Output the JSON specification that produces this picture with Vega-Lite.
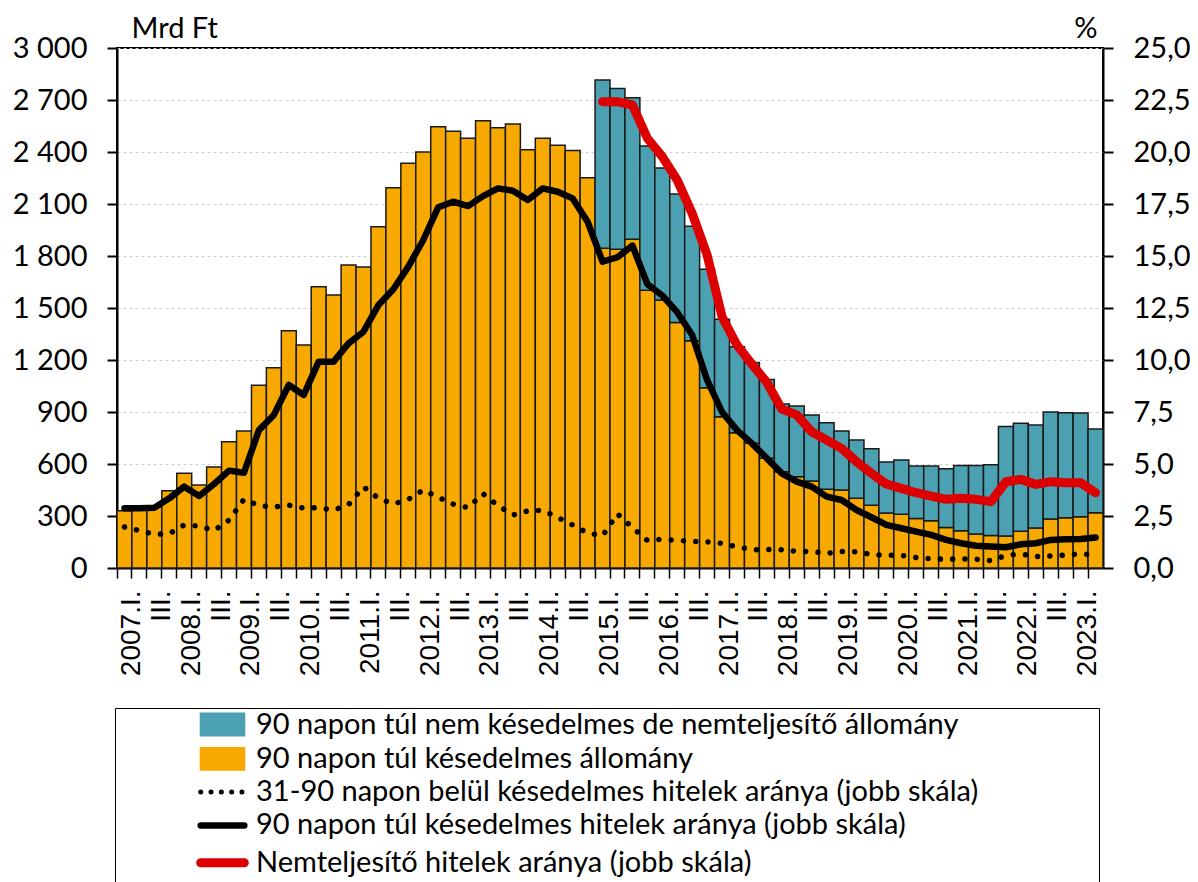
{
  "$schema": "https://vega.github.io/schema/vega-lite/v6.json",
  "width": 986,
  "height": 520,
  "autosize": {"type": "none"},
  "padding": {"left": 117, "top": 48, "right": 95, "bottom": 314},
  "background": "white",
  "config": {"view": {"stroke": "black", "strokeWidth": 2}, "font": "Lato"},
  "data": {"values": [
    {"q":"2007.I.","a":330,"b":null,"r31":1.97,"r90":2.87,"npl":null},
    {"q":"2007.II.","a":340,"b":null,"r31":1.8,"r90":2.87,"npl":null},
    {"q":"2007.III.","a":350,"b":null,"r31":1.62,"r90":2.9,"npl":null},
    {"q":"2007.IV.","a":446,"b":null,"r31":1.65,"r90":3.35,"npl":null},
    {"q":"2008.I.","a":546,"b":null,"r31":2.07,"r90":3.91,"npl":null},
    {"q":"2008.II.","a":479,"b":null,"r31":2.02,"r90":3.46,"npl":null},
    {"q":"2008.III.","a":583,"b":null,"r31":1.8,"r90":4.04,"npl":null},
    {"q":"2008.IV.","a":729,"b":null,"r31":2.3,"r90":4.68,"npl":null},
    {"q":"2009.I.","a":790,"b":null,"r31":3.3,"r90":4.58,"npl":null},
    {"q":"2009.II.","a":1054,"b":null,"r31":3.0,"r90":6.63,"npl":null},
    {"q":"2009.III.","a":1156,"b":null,"r31":2.93,"r90":7.36,"npl":null},
    {"q":"2009.IV.","a":1369,"b":null,"r31":3.02,"r90":8.8,"npl":null},
    {"q":"2010.I.","a":1287,"b":null,"r31":2.88,"r90":8.32,"npl":null},
    {"q":"2010.II.","a":1623,"b":null,"r31":2.9,"r90":9.92,"npl":null},
    {"q":"2010.III.","a":1575,"b":null,"r31":2.78,"r90":9.92,"npl":null},
    {"q":"2010.IV.","a":1748,"b":null,"r31":3.05,"r90":10.8,"npl":null},
    {"q":"2011.I.","a":1737,"b":null,"r31":3.9,"r90":11.36,"npl":null},
    {"q":"2011.II.","a":1969,"b":null,"r31":3.35,"r90":12.64,"npl":null},
    {"q":"2011.III.","a":2194,"b":null,"r31":3.08,"r90":13.4,"npl":null},
    {"q":"2011.IV.","a":2335,"b":null,"r31":3.3,"r90":14.49,"npl":null},
    {"q":"2012.I.","a":2400,"b":null,"r31":3.75,"r90":15.77,"npl":null},
    {"q":"2012.II.","a":2546,"b":null,"r31":3.4,"r90":17.34,"npl":null},
    {"q":"2012.III.","a":2519,"b":null,"r31":3.07,"r90":17.61,"npl":null},
    {"q":"2012.IV.","a":2479,"b":null,"r31":2.9,"r90":17.4,"npl":null},
    {"q":"2013.I.","a":2581,"b":null,"r31":3.57,"r90":17.88,"npl":null},
    {"q":"2013.II.","a":2540,"b":null,"r31":3.0,"r90":18.25,"npl":null},
    {"q":"2013.III.","a":2561,"b":null,"r31":2.55,"r90":18.14,"npl":null},
    {"q":"2013.IV.","a":2413,"b":null,"r31":2.74,"r90":17.69,"npl":null},
    {"q":"2014.I.","a":2479,"b":null,"r31":2.78,"r90":18.25,"npl":null},
    {"q":"2014.II.","a":2439,"b":null,"r31":2.43,"r90":18.09,"npl":null},
    {"q":"2014.III.","a":2408,"b":null,"r31":2.07,"r90":17.77,"npl":null},
    {"q":"2014.IV.","a":2252,"b":null,"r31":1.68,"r90":16.65,"npl":null},
    {"q":"2015.I.","a":1844,"b":971,"r31":1.55,"r90":14.73,"npl":22.42},
    {"q":"2015.II.","a":1839,"b":928,"r31":2.6,"r90":14.94,"npl":22.42},
    {"q":"2015.III.","a":1896,"b":817,"r31":1.95,"r90":15.5,"npl":22.26},
    {"q":"2015.IV.","a":1602,"b":833,"r31":1.33,"r90":13.65,"npl":20.66},
    {"q":"2016.I.","a":1546,"b":762,"r31":1.38,"r90":13.1,"npl":19.78},
    {"q":"2016.II.","a":1417,"b":741,"r31":1.33,"r90":12.3,"npl":18.65},
    {"q":"2016.III.","a":1311,"b":660,"r31":1.28,"r90":11.2,"npl":17.05},
    {"q":"2016.IV.","a":1040,"b":683,"r31":1.26,"r90":9.04,"npl":15.05},
    {"q":"2017.I.","a":873,"b":562,"r31":1.18,"r90":7.5,"npl":12.08},
    {"q":"2017.II.","a":781,"b":496,"r31":1.02,"r90":6.63,"npl":10.72},
    {"q":"2017.III.","a":719,"b":466,"r31":0.88,"r90":5.99,"npl":9.8},
    {"q":"2017.IV.","a":633,"b":455,"r31":0.89,"r90":5.27,"npl":8.92},
    {"q":"2018.I.","a":556,"b":390,"r31":0.88,"r90":4.55,"npl":7.64},
    {"q":"2018.II.","a":527,"b":408,"r31":0.8,"r90":4.15,"npl":7.36},
    {"q":"2018.III.","a":502,"b":381,"r31":0.79,"r90":3.91,"npl":6.55},
    {"q":"2018.IV.","a":454,"b":384,"r31":0.7,"r90":3.43,"npl":6.15},
    {"q":"2019.I.","a":450,"b":340,"r31":0.79,"r90":3.27,"npl":5.75},
    {"q":"2019.II.","a":402,"b":336,"r31":0.78,"r90":2.79,"npl":5.11},
    {"q":"2019.III.","a":362,"b":326,"r31":0.65,"r90":2.44,"npl":4.55},
    {"q":"2019.IV.","a":317,"b":295,"r31":0.61,"r90":2.07,"npl":4.04},
    {"q":"2020.I.","a":310,"b":313,"r31":0.61,"r90":1.91,"npl":3.83},
    {"q":"2020.II.","a":285,"b":303,"r31":0.5,"r90":1.75,"npl":3.62},
    {"q":"2020.III.","a":273,"b":315,"r31":0.44,"r90":1.59,"npl":3.46},
    {"q":"2020.IV.","a":233,"b":340,"r31":0.42,"r90":1.35,"npl":3.3},
    {"q":"2021.I.","a":215,"b":377,"r31":0.44,"r90":1.19,"npl":3.35},
    {"q":"2021.II.","a":196,"b":396,"r31":0.42,"r90":1.07,"npl":3.3},
    {"q":"2021.III.","a":188,"b":408,"r31":0.35,"r90":1.03,"npl":3.19},
    {"q":"2021.IV.","a":185,"b":632,"r31":0.6,"r90":1.0,"npl":4.15},
    {"q":"2022.I.","a":212,"b":623,"r31":0.67,"r90":1.14,"npl":4.26},
    {"q":"2022.II.","a":231,"b":594,"r31":0.55,"r90":1.19,"npl":4.02},
    {"q":"2022.III.","a":283,"b":617,"r31":0.58,"r90":1.35,"npl":4.15},
    {"q":"2022.IV.","a":290,"b":606,"r31":0.62,"r90":1.38,"npl":4.1},
    {"q":"2023.I.","a":296,"b":598,"r31":0.68,"r90":1.39,"npl":4.1},
    {"q":"2023.II.","a":319,"b":483,"r31":0.62,"r90":1.47,"npl":3.62}
  ]},
  "resolve": {"scale": {"y": "independent"}},
  "layer": [
    {
      "transform": [{"fold": ["a", "b"], "as": ["key", "val"]}],
      "mark": {"type": "bar", "stroke": "#1a1a1a", "strokeWidth": 1.5},
      "encoding": {
        "x": {
          "field": "q", "type": "ordinal", "sort": null,
          "scale": {"paddingInner": 0, "paddingOuter": 0},
          "axis": {
            "title": null, "bandPosition": 0, "labelOffset": 7.47, "labelAngle": -90,
            "labelExpr": "slice(datum.label, 4) == '.I.' ? datum.label : (slice(datum.label, 4) == '.III.' ? 'III.' : '')",
            "labelFont": "Liberation Sans", "labelFontSize": 28, "labelColor": "black", "labelPadding": 12,
            "labelOverlap": false, "labelFlush": false,
            "tickSize": 10, "tickColor": "black", "tickWidth": 1.5,
            "domainColor": "black", "domainWidth": 2
          }
        },
        "y": {
          "field": "val", "type": "quantitative", "stack": "zero",
          "scale": {"domain": [0, 3000], "nice": false},
          "axis": {
            "title": "Mrd Ft", "titleAngle": 0, "titleX": 14, "titleY": -11, "titleAlign": "left", "titleBaseline": "alphabetic",
            "titleFont": "Lato", "titleFontSize": 29, "titleFontWeight": "normal", "titleColor": "black",
            "values": [0, 300, 600, 900, 1200, 1500, 1800, 2100, 2400, 2700, 3000],
            "labelExpr": "replace(format(datum.value, ','), ',', ' ')",
            "labelFont": "Lato", "labelFontSize": 29, "labelColor": "black", "labelPadding": 20,
            "grid": true, "gridColor": "#d0d0d0", "gridDash": [3, 3], "gridWidth": 1,
            "tickSize": 10, "tickColor": "black", "tickWidth": 2,
            "domainColor": "black", "domainWidth": 2
          }
        },
        "color": {
          "field": "key", "type": "nominal",
          "scale": {"domain": ["b", "a", "r31", "r90", "npl"], "range": ["#4BA0B1", "#F7A900", "#000000", "#000000", "#DC0000"]},
          "legend": {
            "title": null, "orient": "none", "legendX": -2, "legendY": 660, "direction": "vertical",
            "strokeColor": "black", "fillColor": "white", "padding": 2,
            "symbolSize": 1156, "symbolOffset": 91, "labelOffset": 19,
            "labelFont": "Lato", "labelFontSize": 29, "labelColor": "black", "labelLimit": 1500, "rowPadding": 3.3,
            "labelExpr": "(datum.value == 'b' ? '90 napon túl nem késedelmes de nemteljesítő állomány' : datum.value == 'a' ? '90 napon túl késedelmes állomány' : datum.value == 'r31' ? '31-90 napon belül késedelmes hitelek aránya (jobb skála)' : datum.value == 'r90' ? '90 napon túl késedelmes hitelek aránya (jobb skála)' : 'Nemteljesítő hitelek aránya (jobb skála)') + '\u00a0\u00a0\u00a0\u00a0\u00a0\u00a0\u00a0\u00a0\u00a0\u00a0\u00a0\u00a0\u00a0\u00a0\u00a0\u00a0\u200b'",
            "encoding": {
              "symbols": {
                "shape": {"value": {"expr": "datum.value == 'b' || datum.value == 'a' ? 'M-1,-0.5H1V0.5H-1Z' : 'stroke'"}},
                "size": {"value": 1900},
                "stroke": {"value": {"expr": "datum.value == 'npl' ? '#DC0000' : (datum.value == 'b' || datum.value == 'a') ? '#1a1a1a' : 'black'"}},
                "strokeWidth": {"value": {"expr": "(datum.value == 'b' || datum.value == 'a') ? 2 : datum.value == 'r31' ? 5 : datum.value == 'r90' ? 6.5 : 9"}},
                "strokeDash": {"value": {"expr": "datum.value == 'r31' ? [0.01, 10.3] : [1, 0]"}},
                "strokeCap": {"value": "round"},
                "opacity": {"value": 1}
              }
            }
          }
        },
        "order": {"field": "key", "sort": "ascending"}
      }
    },
    {
      "layer": [
        {
          "transform": [{"fold": ["r31"], "as": ["key", "val"]}],
          "mark": {"type": "line", "strokeWidth": 5.5, "strokeDash": [0.01, 12.3], "strokeCap": "round"},
          "encoding": {
            "x": {"field": "q", "type": "ordinal", "sort": null},
            "y": {
              "field": "val", "type": "quantitative",
              "scale": {"domain": [0, 25], "nice": false},
              "axis": {
                "orient": "right", "title": "%", "titleAngle": 0, "titleX": -6, "titleY": -11, "titleAlign": "right", "titleBaseline": "alphabetic",
                "titleFont": "Lato", "titleFontSize": 29, "titleFontWeight": "normal", "titleColor": "black",
                "values": [0, 2.5, 5, 7.5, 10, 12.5, 15, 17.5, 20, 22.5, 25],
                "labelExpr": "replace(format(datum.value, '.1f'), '.', ',')",
                "labelFont": "Lato", "labelFontSize": 29, "labelColor": "black", "labelPadding": 20,
                "grid": false, "tickSize": 10, "tickColor": "black", "tickWidth": 2,
                "domainColor": "black", "domainWidth": 2
              }
            },
            "color": {"field": "key", "type": "nominal", "legend": null}
          }
        },
        {
          "transform": [{"fold": ["r90"], "as": ["key", "val"]}],
          "mark": {"type": "line", "strokeWidth": 6.5, "strokeCap": "round", "strokeJoin": "round"},
          "encoding": {
            "x": {"field": "q", "type": "ordinal", "sort": null},
            "y": {"field": "val", "type": "quantitative"},
            "color": {"field": "key", "type": "nominal", "legend": null}
          }
        },
        {
          "transform": [{"fold": ["npl"], "as": ["key", "val"]}],
          "mark": {"type": "line", "strokeWidth": 9, "strokeCap": "round", "strokeJoin": "round"},
          "encoding": {
            "x": {"field": "q", "type": "ordinal", "sort": null},
            "y": {"field": "val", "type": "quantitative"},
            "color": {"field": "key", "type": "nominal", "legend": null}
          }
        }
      ]
    }
  ]
}
